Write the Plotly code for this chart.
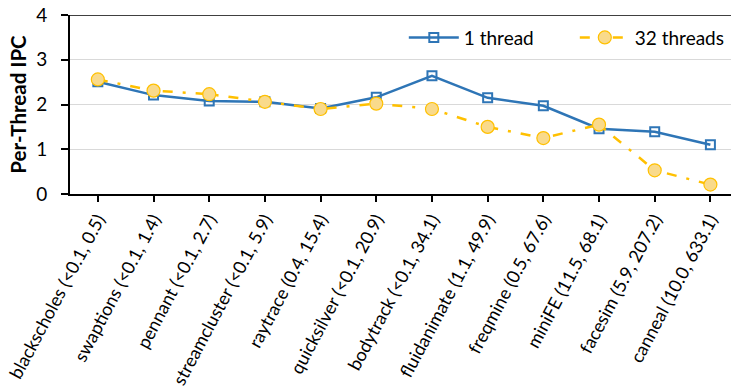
import plotly.graph_objects as go

# Benchmarks with (1-thread, 32-thread) annotations
categories = [
    "blackscholes (<0.1, 0.5)", "swaptions (<0.1, 1.4)", "pennant (<0.1, 2.7)",
    "streamcluster (<0.1, 5.9)", "raytrace (0.4, 15.4)", "quicksilver (<0.1, 20.9)",
    "bodytrack (<0.1, 34.1)", "fluidanimate (1.1, 49.9)", "freqmine (0.5, 67.6)",
    "miniFE (11.5, 68.1)", "facesim (5.9, 207.2)", "canneal (10.0, 633.1)",
]
ipc_1_thread = [2.51, 2.21, 2.08, 2.06, 1.91, 2.16, 2.64, 2.15, 1.97, 1.46, 1.39, 1.10]
ipc_32_threads = [2.56, 2.31, 2.23, 2.06, 1.90, 2.02, 1.90, 1.50, 1.25, 1.55, 0.53, 0.21]
y_ticks = [0, 1, 2, 3, 4]

FONT = "Lato"
BLUE = "#2E75B6"
GOLD = "#FFC000"
GOLD_FILL = "#F9DA8B"

x_idx = list(range(len(categories)))

fig = go.Figure()
fig.add_trace(go.Scatter(
    x=x_idx, y=ipc_1_thread, name="1 thread", mode="lines+markers",
    line=dict(color=BLUE, width=2.5),
    marker=dict(symbol="square-open", size=9, color=BLUE, line=dict(width=2, color=BLUE)),
))
fig.add_trace(go.Scatter(
    x=x_idx, y=ipc_32_threads, name="32 threads", mode="lines+markers",
    line=dict(color=GOLD, width=2.5, dash="10px,10px,3px,10px"),
    marker=dict(symbol="circle", size=13, color=GOLD_FILL, line=dict(width=1.2, color=GOLD)),
))

fig.update_layout(
    width=731, height=392,
    margin=dict(l=70, r=0, t=15, b=198, autoexpand=False),
    paper_bgcolor="white", plot_bgcolor="white",
    font=dict(family=FONT, color="black"),
    showlegend=True,
    legend=dict(
        orientation="h", x=0.505, y=0.98, xanchor="left", yanchor="top",
        font=dict(size=19, family=FONT), bgcolor="rgba(0,0,0,0)",
        itemwidth=50, tracegroupgap=0,
        entrywidth=106, entrywidthmode="pixels",
    ),
    xaxis=dict(
        range=[-0.5, 11.37],
        tickmode="array", tickvals=x_idx, ticktext=categories,
        tickangle=-62, tickfont=dict(size=18, family=FONT),
        showline=True, linecolor="black", linewidth=2,
        ticks="outside", ticklen=6, tickwidth=1.5, tickcolor="black",
        showgrid=False, zeroline=False,
    ),
    yaxis=dict(
        range=[0, 4], tickvals=y_ticks,
        tickfont=dict(size=19, family=FONT), ticklabelstandoff=10,
        title=dict(text="<b>Per-Thread IPC</b>", font=dict(size=20.5, family=FONT), standoff=4),
        showline=True, linecolor="black", linewidth=2,
        ticks="outside", ticklen=7, tickwidth=1.5, tickcolor="black",
        showgrid=True, gridcolor="#D9D9D9", gridwidth=1,
        zeroline=False,
    ),
    shapes=[dict(type="line", xref="paper", yref="y", x0=0, x1=1, y0=4, y1=4,
                 line=dict(color="#404040", width=2))],
)

fig.write_html("out.html")
